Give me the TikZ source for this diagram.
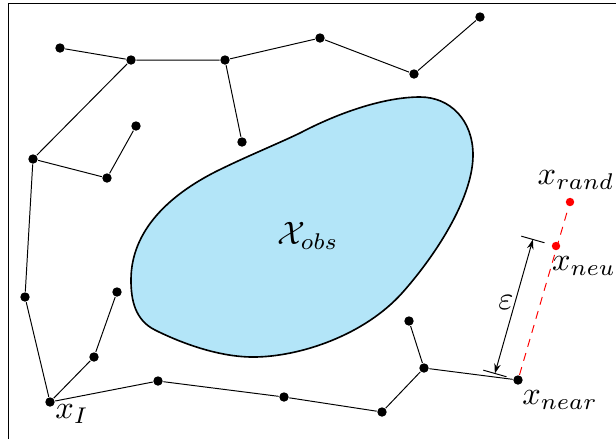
\documentclass[tikz,border=0pt]{standalone}
\usepackage{xcolor}
\usepackage{tikz}
\usetikzlibrary{arrows.meta, calc}
\definecolor{obsblue}{RGB}{179,229,248}
\tikzset{
  vertex/.style={
    circle, fill=black, inner sep=0pt, minimum size=2.9pt
  },
  newvertex/.style={
    circle, fill=red, inner sep=0pt, minimum size=2.6pt
  },
  edge/.style={draw=black, line width=0.3pt},
  newedge/.style={draw=red, line width=0.3pt, dash pattern=on 2.5pt off 2pt},
  obstacle/.style={draw=black, fill=obsblue, line width=0.5pt},
  measure/.style={{Stealth[length=3pt,width=2pt]}-{Stealth[length=3pt,width=2pt]}, line width=0.3pt},
  lbl/.style={inner sep=1pt},
}

\begin{document}
\begin{tikzpicture}[x=0.308pt, y=-0.308pt]
    \useasboundingbox (0,0) rectangle (616,439);
    %% Frame
    \draw[line width=0.3pt] (8,439) -- (8,3) -- (616,3);

    %% Obstacle region
    \draw[obstacle] (420,97) .. controls (450,97) and (473,120) .. (473,155)
      .. controls (473,195) and (440,250) .. (403,292)
      .. controls (365,335) and (300,357) .. (253,357)
      .. controls (215,357) and (175,340) .. (155,330)
      .. controls (135,320) and (131,300) .. (131,280)
      .. controls (131,230) and (170,195) .. (215,172)
      .. controls (245,157) and (275,145) .. (300,133)
      .. controls (340,112) and (385,97) .. (420,97) -- cycle;
    \node (obs) at (308,236) {$\mathcal{X}_{obs}$};

    %% Tree vertices
    \node[vertex] (xI) at (50,402) {};
    \node[vertex] (a) at (60,48) {};
    \node[vertex] (b) at (131,60) {};
    \node[vertex] (c) at (225,60) {};
    \node[vertex] (d) at (242,142) {};
    \node[vertex] (e) at (320,38) {};
    \node[vertex] (f) at (414,74) {};
    \node[vertex] (g) at (480,17) {};
    \node[vertex] (h) at (33,159) {};
    \node[vertex] (i) at (136,126) {};
    \node[vertex] (j) at (107,178) {};
    \node[vertex] (k) at (25,297) {};
    \node[vertex] (l) at (94,357) {};
    \node[vertex] (m) at (117,292) {};
    \node[vertex] (n) at (158,381) {};
    \node[vertex] (o) at (284,397) {};
    \node[vertex] (p) at (382,412) {};
    \node[vertex] (q) at (424,368) {};
    \node[vertex] (r) at (409,321) {};
    \node[vertex] (xnear) at (518,380) {};

    %% New samples
    \node[newvertex] (xneu) at (556,246) {};
    \node[newvertex] (xrand) at (570,202) {};

    %% Tree edges
    \draw[edge] (a) -- (b) -- (c) -- (e) -- (f) -- (g);
    \draw[edge] (c) -- (d);
    \draw[edge] (b) -- (h) -- (j) -- (i);
    \draw[edge] (h) -- (k) -- (xI);
    \draw[edge] (xI) -- (l) -- (m);
    \draw[edge] (xI) -- (n) -- (o) -- (p) -- (q) -- (r);
    \draw[edge] (q) -- (xnear);
    \draw[newedge] (xnear) -- (xrand);

    %% Step size
    \coordinate (e1) at ($(xnear)!7.4pt!90:(xneu)$);
    \coordinate (e2) at ($(xneu)!7.4pt!-90:(xnear)$);
    \draw[line width=0.3pt] ($(xnear)!3.7pt!90:(xneu)$) -- ($(xnear)!11.1pt!90:(xneu)$);
    \draw[line width=0.3pt] ($(xneu)!3.7pt!-90:(xnear)$) -- ($(xneu)!11.1pt!-90:(xnear)$);
    \draw[measure] (e1) -- (e2);
    \node (eps) at (506,302) {$\varepsilon$};

    %% Labels
    \node[lbl] (lI) at (72,414) {$x_I$};
    \node[lbl] (lnear) at (560,400) {$x_{near}$};
    \node[lbl] (lneu) at (584,266) {$x_{neu}$};
    \node[lbl] (lrand) at (576,180) {$x_{rand}$};

  \end{tikzpicture}
\end{document}
